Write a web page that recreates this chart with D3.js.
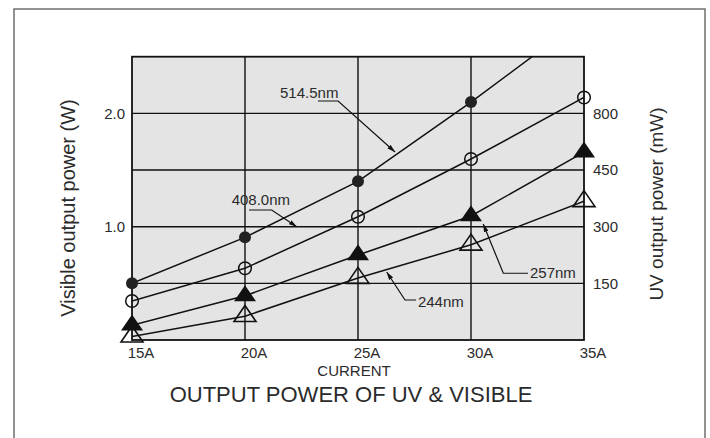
<!DOCTYPE html>
<html>
<head>
<meta charset="utf-8">
<script src="https://cdn.jsdelivr.net/npm/d3@7"></script>
<style>
  body { margin: 0; background: #fff; }
  svg { display: block; font-family: "Liberation Sans", Arial, sans-serif; }
</style>
</head>
<body>
<div id="grafica"></div>
<script>
// data
var currents = [15, 20, 25, 30, 35];
var currentLabels = ["15A", "20A", "25A", "30A", "35A"];
var visibleTicks = [1.0, 2.0];
var uvTickValues = [0.5, 1.0, 1.5, 2.0];
var uvTickLabels = ["150", "300", "450", "800"];

var s514 = [0.50, 0.906, 1.40, 2.10, 2.84];
var s408 = [0.344, 0.633, 1.088, 1.597, 2.14];
var s257 = [0.13, 0.39, 0.75, 1.094, 1.657];
var s244 = [0.03, 0.21, 0.547, 0.84, 1.224];

// callouts: [current, watts] for text, line start, elbow, tip
var callouts = [
  { label: "514.5nm", text: [21.55, 2.135], pts: [[23.23, 2.109], [24.12, 2.109], [26.64, 1.659]] },
  { label: "408.0nm", text: [19.41, 1.191], pts: [[20.18, 1.147], [21.18, 1.147], [22.29, 1.0]] },
  { label: "257nm", text: [32.61, 0.547], pts: [[32.52, 0.589], [31.43, 0.589], [30.54, 1.024]] },
  { label: "244nm", text: [27.65, 0.289], pts: [[27.57, 0.353], [27.08, 0.353], [26.27, 0.60]] }
];

var W = 710, H = 438;
var plot = {left: 132, right: 584, top: 56.7, bottom: 340};
var ink = "#111", txt = "#2b2b2b";

var svg = d3.select("#grafica")
  .append("svg")
    .attr("width", W)
    .attr("height", H);

// outer frame (open at the bottom)
svg.append("rect")
  .attr("x", 14).attr("y", 9)
  .attr("width", 691).attr("height", 460)
  .attr("fill", "none")
  .attr("stroke", "#6e6e6e")
  .attr("stroke-width", 1.5);

var x = d3.scaleLinear().domain([15, 35]).range([plot.left, plot.right]);
var y = d3.scaleLinear().domain([0, 2.5]).range([plot.bottom, plot.top]);

svg.append("rect")
  .attr("x", x(15)).attr("y", y(2.5))
  .attr("width", x(35) - x(15)).attr("height", y(0) - y(2.5))
  .attr("fill", "#e4e4e4");

// grid
svg.append("g")
  .selectAll("line")
  .data([20, 25, 30])
  .enter().append("line")
    .attr("x1", function(d) { return x(d); })
    .attr("x2", function(d) { return x(d); })
    .attr("y1", y(0)).attr("y2", y(2.5))
    .attr("stroke", ink).attr("stroke-width", 1.4);

svg.append("g")
  .selectAll("line")
  .data(uvTickValues)
  .enter().append("line")
    .attr("x1", x(15)).attr("x2", x(35))
    .attr("y1", function(d) { return y(d); })
    .attr("y2", function(d) { return y(d); })
    .attr("stroke", ink).attr("stroke-width", 1.4);

svg.append("rect")
  .attr("x", x(15)).attr("y", y(2.5))
  .attr("width", x(35) - x(15)).attr("height", y(0) - y(2.5))
  .attr("fill", "none")
  .attr("stroke", ink)
  .attr("stroke-width", 1.8);

// tick labels
svg.append("g")
  .selectAll("text")
  .data(currents)
  .enter().append("text")
    .attr("x", function(d) { return x(d) + 9; })
    .attr("y", y(0) + 18)
    .attr("text-anchor", "middle")
    .attr("fill", txt)
    .style("font-size", "15px")
    .text(function(d, i) { return currentLabels[i]; });

svg.append("g")
  .selectAll("text")
  .data(visibleTicks)
  .enter().append("text")
    .attr("x", plot.left - 7)
    .attr("y", function(d) { return y(d); })
    .attr("dy", "0.35em")
    .attr("text-anchor", "end")
    .attr("fill", txt)
    .style("font-size", "15px")
    .text(d3.format(".1f"));

svg.append("g")
  .selectAll("text")
  .data(uvTickValues)
  .enter().append("text")
    .attr("x", plot.right + 9)
    .attr("y", function(d) { return y(d); })
    .attr("dy", "0.35em")
    .attr("fill", txt)
    .style("font-size", "15px")
    .text(function(d, i) { return uvTickLabels[i]; });

// titles
svg.append("text")
  .attr("x", 354).attr("y", 376)
  .attr("text-anchor", "middle")
  .attr("fill", txt)
  .style("font-size", "15px")
  .text("CURRENT");

svg.append("text")
  .attr("x", 351).attr("y", 402)
  .attr("text-anchor", "middle")
  .attr("fill", txt)
  .style("font-size", "22px")
  .text("OUTPUT POWER OF UV & VISIBLE");

svg.append("text")
  .attr("transform", "translate(75,208) rotate(-90)")
  .attr("text-anchor", "middle")
  .attr("fill", txt)
  .style("font-size", "20px")
  .text("Visible output power (W)");

svg.append("text")
  .attr("transform", "translate(663,204) rotate(-90)")
  .attr("text-anchor", "middle")
  .attr("fill", txt)
  .style("font-size", "19px")
  .text("UV output power (mW)");

// series
svg.append("defs").append("clipPath")
  .attr("id", "clip")
  .append("rect")
    .attr("x", x(15)).attr("y", y(2.5))
    .attr("width", x(35) - x(15)).attr("height", y(0) - y(2.5));

var lineFn = d3.line()
  .x(function(d, i) { return x(currents[i]); })
  .y(function(d) { return y(d); });

var lines = svg.append("g").attr("clip-path", "url(#clip)");
[s514, s408, s257, s244].forEach(function(s) {
  lines.append("path")
    .datum(s)
    .attr("fill", "none")
    .attr("stroke", ink)
    .attr("stroke-width", 1.5)
    .attr("d", lineFn);
});

function tri(cx, cy) {
  var w = 22, h = 16;
  return "M" + cx + "," + (cy - h * 2 / 3) +
         "L" + (cx + w / 2) + "," + (cy + h / 3) +
         "L" + (cx - w / 2) + "," + (cy + h / 3) + "Z";
}

function inRange(d) { return d <= 2.5; }

svg.append("g").selectAll("path")
  .data(s244)
  .enter().append("path")
    .attr("d", function(d, i) { return tri(x(currents[i]), y(d)); })
    .attr("fill", "none").attr("stroke", ink).attr("stroke-width", 1.6);

svg.append("g").selectAll("path")
  .data(s257)
  .enter().append("path")
    .attr("d", function(d, i) { return tri(x(currents[i]), y(d)); })
    .attr("fill", ink);

svg.append("g").selectAll("circle")
  .data(s408)
  .enter().append("circle")
    .attr("cx", function(d, i) { return x(currents[i]); })
    .attr("cy", function(d) { return y(d); })
    .attr("r", 6.3)
    .attr("fill", "none").attr("stroke", ink).attr("stroke-width", 1.5);

svg.append("g").selectAll("circle")
  .data(s514.filter(inRange))
  .enter().append("circle")
    .attr("cx", function(d, i) { return x(currents[i]); })
    .attr("cy", function(d) { return y(d); })
    .attr("r", 6)
    .attr("fill", "#222");

// callouts
svg.select("defs").append("marker")
  .attr("id", "arrow")
  .attr("viewBox", "0 0 10 6")
  .attr("refX", 10).attr("refY", 3)
  .attr("markerWidth", 8).attr("markerHeight", 5)
  .attr("markerUnits", "userSpaceOnUse")
  .attr("orient", "auto")
  .append("path")
    .attr("d", "M0,0L10,3L0,6Z")
    .attr("fill", ink);

var leader = d3.line()
  .x(function(d) { return x(d[0]); })
  .y(function(d) { return y(d[1]); });

callouts.forEach(function(c) {
  svg.append("path")
    .attr("d", leader(c.pts))
    .attr("fill", "none")
    .attr("stroke", ink)
    .attr("stroke-width", 1.2)
    .attr("marker-end", "url(#arrow)");
  svg.append("text")
    .attr("x", x(c.text[0]))
    .attr("y", y(c.text[1]))
    .attr("fill", txt)
    .style("font-size", "15px")
    .text(c.label);
});
</script>
</body>
</html>
